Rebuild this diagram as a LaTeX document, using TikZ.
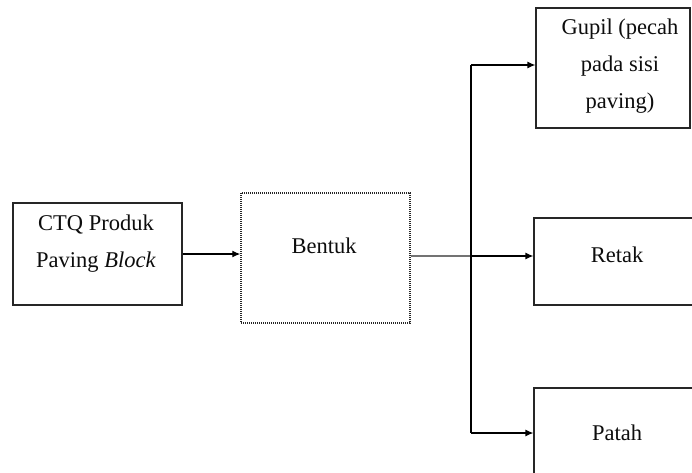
\documentclass[tikz,border=0pt]{standalone}
\usepackage{fontspec}
\setmainfont{Liberation Serif}
\usetikzlibrary{arrows.meta}
\begin{document}
\begin{tikzpicture}[x=1pt,y=-1pt,
  box/.style={draw=black!85,line width=1.2pt,inner sep=0pt},
  txt/.style={font=\fontsize{22.5}{37}\selectfont,align=center,inner sep=0pt,text=black!95},
  arr/.style={draw=black,line width=1.2pt,-{Latex[length=8pt,width=7pt]}},
  ln/.style={draw=black,line width=1.2pt}]
\useasboundingbox (0,0) rectangle (692,472);
\clip (0,0) rectangle (692,472);
\fill[white] (0,0) rectangle (692,472);
% boxes
\node[box,minimum width=169pt,minimum height=102pt] (ctq) at (97.5,254) {};
\node[box,draw=black!85,dash pattern=on 1pt off 1pt,line width=1.5pt,minimum width=169pt,minimum height=130pt] (bentuk) at (325.5,258) {};
\node[box,minimum width=154pt,minimum height=120pt] (gupil) at (613,68) {};
\node[box,minimum width=200pt,minimum height=87pt] (retak) at (634,261.5) {};
\node[box,minimum width=200pt,minimum height=120pt] (patah) at (634,448) {};
% texts
\node[txt,anchor=base] (t1) at (96,230) {CTQ Produk};
\node[txt,anchor=base] (t2) at (96,267) {Paving \textit{Block}};
\node[txt,anchor=base] (tb) at (324,253) {Bentuk};
\node[txt,anchor=base] (g1) at (620,34) {Gupil (pecah};
\node[txt,anchor=base] (g2) at (620,71) {pada sisi};
\node[txt,anchor=base] (g3) at (620,108) {paving)};
\node[txt,anchor=base] (tr) at (617,262) {Retak};
\node[txt,anchor=base] (tp) at (617,440) {Patah};
% junctions
\coordinate (j) at (471,256);
\coordinate (jt) at (471,65);
\coordinate (jb) at (471,433);
% connectors
\draw[arr] (ctq.east) -- (ctq.east -| bentuk.west);
\draw[draw=black!55,line width=2.4pt] (bentuk.east |- j) -- (j);
\draw[ln] (jt) -- (jb);
\draw[arr] (j) -- (j -| retak.west);
\draw[arr] (jt) -- (jt -| gupil.west);
\draw[arr] (jb) -- (jb -| patah.west);
\end{tikzpicture}
\end{document}
